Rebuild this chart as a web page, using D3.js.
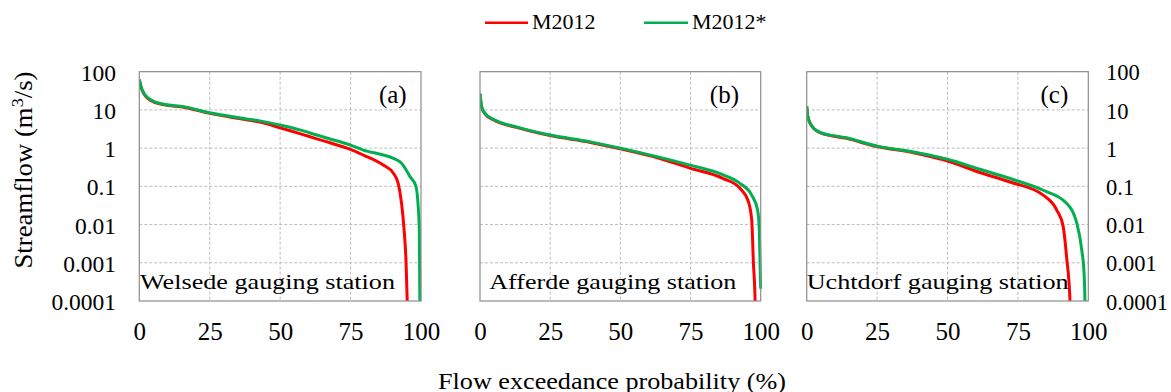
<!DOCTYPE html>
<html>
<head>
<meta charset="utf-8">
<script src="https://cdn.jsdelivr.net/npm/d3@7"></script>
<style>
  html, body { margin: 0; padding: 0; background: #fff; }
  svg { display: block; }
  text { font-family: "Liberation Serif", "Times New Roman", serif; fill: #000; }
</style>
</head>
<body>
<svg id="chart" width="1171" height="392"></svg>
<script>
// ---------------- DATA ----------------
const seriesNames = ["M2012", "M2012*"];
const stationNames = ["Welsede gauging station", "Afferde gauging station", "Uchtdorf gauging station"];
const panelTags = ["(a)", "(b)", "(c)"];

const xTickValues = [0, 25, 50, 75, 100];
const xTickLabels = ["0", "25", "50", "75", "100"];
const yTickValues = [100, 10, 1, 0.1, 0.01, 0.001, 0.0001];
const yTickLabels = ["100", "10", "1", "0.1", "0.01", "0.001", "0.0001"];

// Welsede (a)
const welsedeRedP = [0, 0.8, 2, 4.4, 7.9, 16.2, 25.4, 37.5, 45, 50, 57, 63, 67.7, 75, 79.5, 86.6, 90.2, 91.9, 93.1, 94.0, 94.7, 95.1, 95.3];
const welsedeRedQ = [62, 36, 24, 17.2, 14.0, 11.6, 8.0, 5.6, 4.4, 3.4, 2.4, 1.75, 1.38, 0.93, 0.66, 0.36, 0.22, 0.12, 0.036, 0.0073, 0.001, 0.0001, 0.00003];
const welsedeGreenP = [0, 0.8, 2, 4.4, 7.9, 16.2, 25.4, 37.5, 45, 50, 57, 63, 67.7, 75, 79.5, 86.6, 90.2, 93.1, 96.1, 98.2, 99.0, 99.4, 99.6, 99.7];
const welsedeGreenQ = [62, 37, 25, 17.8, 14.5, 12, 8.3, 5.9, 4.8, 4.0, 3.0, 2.2, 1.74, 1.2, 0.89, 0.66, 0.54, 0.40, 0.18, 0.1, 0.03, 0.0073, 0.0001, 0.00003];

// Afferde (b)
const afferdeRedP = [0, 0.2, 0.6, 1.8, 4.75, 13, 25, 39, 50, 63, 74.8, 86.7, 92.6, 95.6, 96.8, 97.4, 98.0, 98.1];
const afferdeRedQ = [26, 19, 11.6, 7.9, 5.5, 3.5, 2.13, 1.43, 0.96, 0.57, 0.30, 0.16, 0.089, 0.040, 0.013, 0.001, 0.0001, 0.00003];
const afferdeGreenP = [0, 0.2, 0.6, 1.8, 4.75, 13, 25, 39, 50, 63, 74.8, 86.7, 92.6, 96.8, 98.9, 99.5, 99.8, 100];
const afferdeGreenQ = [27, 19.5, 12, 8.1, 5.7, 3.6, 2.2, 1.48, 1.0, 0.6, 0.36, 0.20, 0.12, 0.059, 0.024, 0.0072, 0.0008, 0.00021];

// Uchtdorf (c)
const uchtdorfRedP = [0, 0.35, 1.8, 4.7, 14.2, 25, 37.9, 50, 61.5, 72.2, 84.0, 88.8, 91.1, 92.3, 93.5, 93.6];
const uchtdorfRedQ = [12.6, 6.9, 3.8, 2.55, 1.8, 1.1, 0.76, 0.46, 0.23, 0.13, 0.059, 0.024, 0.0087, 0.0014, 0.0001, 0.00003];
const uchtdorfGreenP = [0, 0.35, 1.8, 4.7, 14.2, 25, 37.9, 50, 61.5, 72.2, 84.0, 92.3, 95.9, 97.7, 98.5, 98.8, 98.9];
const uchtdorfGreenQ = [12.6, 6.9, 3.8, 2.6, 1.86, 1.13, 0.79, 0.51, 0.28, 0.16, 0.079, 0.036, 0.011, 0.0021, 0.00053, 0.0001, 0.00003];

// ---------------- LAYOUT ----------------
const colors = ["#ff0000", "#00b050"];
const plotTop = 71.7, plotBottom = 301;
const panels = [
  { x0: 139.3, x1: 421,   tagRight: 406.7, stationLeft: 140,   stationWidth: 255,
    red: [welsedeRedP, welsedeRedQ], green: [welsedeGreenP, welsedeGreenQ] },
  { x0: 480,   x1: 760.7, tagRight: 739,   stationLeft: 489.3, stationWidth: 247,
    red: [afferdeRedP, afferdeRedQ], green: [afferdeGreenP, afferdeGreenQ] },
  { x0: 806.7, x1: 1088.3, tagRight: 1068.3, stationLeft: 806.7, stationWidth: 262,
    red: [uchtdorfRedP, uchtdorfRedQ], green: [uchtdorfGreenP, uchtdorfGreenQ] }
];

const svg = d3.select("#chart");
const y = d3.scaleLog().domain([0.0001, 100]).range([plotBottom, plotTop]);
const defs = svg.append("defs");

panels.forEach((pn, i) => {
  const x = d3.scaleLinear().domain([0, 100]).range([pn.x0, pn.x1]);
  const g = svg.append("g");

  // gridlines
  g.selectAll(".hg").data(yTickValues.slice(1, -1)).enter().append("line")
    .attr("x1", pn.x0).attr("x2", pn.x1)
    .attr("y1", d => y(d)).attr("y2", d => y(d))
    .attr("stroke", "#bdbdbd").attr("stroke-width", 1).attr("stroke-dasharray", "3,2");
  g.selectAll(".vg").data(xTickValues.slice(1, -1)).enter().append("line")
    .attr("y1", plotTop).attr("y2", plotBottom)
    .attr("x1", d => x(d)).attr("x2", d => x(d))
    .attr("stroke", "#bdbdbd").attr("stroke-width", 1).attr("stroke-dasharray", "3,2");

  // station label
  g.append("text")
    .attr("x", pn.stationLeft).attr("y", 288.5)
    .attr("font-size", 22)
    .attr("textLength", pn.stationWidth).attr("lengthAdjust", "spacingAndGlyphs")
    .text(stationNames[i]);

  // panel tag
  g.append("text")
    .attr("x", pn.tagRight).attr("y", 102.5)
    .attr("text-anchor", "end").attr("font-size", 25)
    .text(panelTags[i]);

  // clip
  const cid = "clip" + i;
  defs.append("clipPath").attr("id", cid).append("rect")
    .attr("x", pn.x0).attr("y", plotTop - 2)
    .attr("width", pn.x1 - pn.x0 + 2).attr("height", plotBottom - plotTop + 2);

  const line = d3.line().x(d => x(d[0])).y(d => y(d[1])).curve(d3.curveMonotoneX);
  [pn.red, pn.green].forEach((s, k) => {
    const pts = s[0].map((p, j) => [p, s[1][j]]);
    g.append("path").datum(pts)
      .attr("clip-path", `url(#${cid})`)
      .attr("d", line)
      .attr("fill", "none")
      .attr("stroke", colors[k])
      .attr("stroke-width", 3)
      .attr("stroke-linejoin", "round");
  });

  // frame
  g.append("rect")
    .attr("x", pn.x0).attr("y", plotTop)
    .attr("width", pn.x1 - pn.x0).attr("height", plotBottom - plotTop)
    .attr("fill", "none").attr("stroke", "#8c8c8c").attr("stroke-width", 1.2);

  // x axis
  const xa = svg.append("g").attr("transform", `translate(0,${plotBottom})`)
    .call(d3.axisBottom(x).tickValues(xTickValues).tickFormat((d, j) => xTickLabels[j]).tickSize(0).tickPadding(0));
  xa.select(".domain").remove();
  xa.selectAll("text")
    .attr("y", 39).attr("dy", 0)
    .attr("font-size", 25);
});

// y axes
const yl = svg.append("g").attr("transform", `translate(116,0)`)
  .call(d3.axisLeft(y).tickValues(yTickValues).tickFormat((d, j) => yTickLabels[j]).tickSize(0).tickPadding(0));
yl.select(".domain").remove();
yl.selectAll("text").attr("font-size", 23.5).attr("dy", "0.36em").attr("x", 0);

const yr = svg.append("g").attr("transform", `translate(1106,0)`)
  .call(d3.axisRight(y).tickValues(yTickValues).tickFormat((d, j) => yTickLabels[j]).tickSize(0).tickPadding(0));
yr.select(".domain").remove();
yr.selectAll("text").attr("font-size", 22.5).attr("dy", "0.36em").attr("x", 0);

// y title
const yt = svg.append("text")
  .attr("transform", "translate(32,170) rotate(-90)")
  .attr("text-anchor", "middle")
  .attr("font-size", 25)
  .attr("textLength", 197).attr("lengthAdjust", "spacingAndGlyphs");
yt.append("tspan").text("Streamflow (m");
yt.append("tspan").attr("baseline-shift", "super").attr("font-size", 17).text("3");
yt.append("tspan").text("/s)");

// x title
svg.append("text")
  .attr("x", 612).attr("y", 388.5)
  .attr("text-anchor", "middle")
  .attr("font-size", 24)
  .attr("textLength", 348).attr("lengthAdjust", "spacingAndGlyphs")
  .text("Flow exceedance probability (%)");

// legend
const legendItems = [
  { x1: 485, x2: 528, tx: 532 },
  { x1: 644, x2: 688, tx: 692 }
];
legendItems.forEach((it, k) => {
  svg.append("line")
    .attr("x1", it.x1).attr("x2", it.x2).attr("y1", 22.7).attr("y2", 22.7)
    .attr("stroke", colors[k]).attr("stroke-width", 2.5);
  svg.append("text")
    .attr("x", it.tx).attr("y", 29.3)
    .attr("font-size", 22)
    .text(seriesNames[k]);
});
</script>
</body>
</html>
